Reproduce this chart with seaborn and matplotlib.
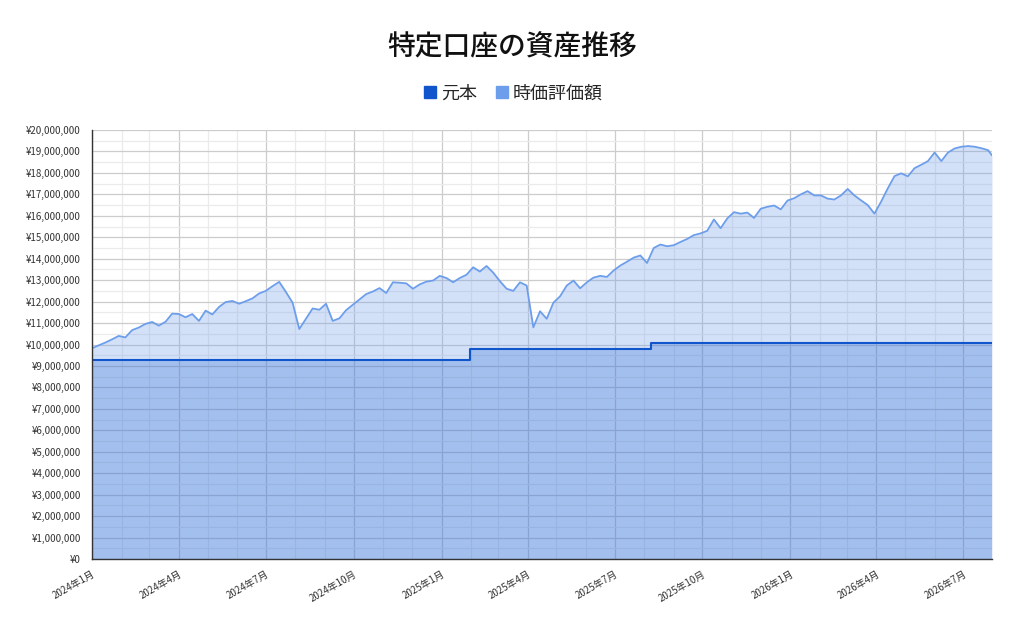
import numpy as np
import pandas as pd
import matplotlib
matplotlib.use('Agg')
import matplotlib.pyplot as plt
import matplotlib.dates as mdates
from matplotlib.ticker import MultipleLocator, FuncFormatter
from matplotlib.lines import Line2D
import seaborn as sns

# ── データ ──────────────────────────────────────────────
# 時価評価額（週次, 円）
value_dates = pd.date_range('2024-01-01', '2026-07-27', freq='7D').append(pd.DatetimeIndex(['2026-07-31']))
market_value = [
    9820000, 9960000, 10090000, 10240000, 10400000, 10330000, 10670000, 10790000, 10960000, 11050000,
    10880000, 11060000, 11440000, 11420000, 11270000, 11420000, 11100000, 11580000, 11400000, 11750000,
    11980000, 12030000, 11900000, 12020000, 12150000, 12380000, 12500000, 12720000, 12920000, 12450000,
    11950000, 10720000, 11200000, 11680000, 11620000, 11900000, 11100000, 11220000, 11600000, 11850000,
    12100000, 12350000, 12470000, 12630000, 12400000, 12900000, 12880000, 12850000, 12600000, 12800000,
    12930000, 12980000, 13200000, 13100000, 12900000, 13100000, 13250000, 13600000, 13400000, 13660000,
    13350000, 12950000, 12600000, 12500000, 12900000, 12750000, 10800000, 11550000, 11200000, 11950000,
    12250000, 12750000, 12980000, 12620000, 12900000, 13120000, 13200000, 13150000, 13450000, 13680000,
    13860000, 14050000, 14150000, 13800000, 14500000, 14660000, 14580000, 14630000, 14780000, 14920000,
    15100000, 15180000, 15300000, 15830000, 15420000, 15880000, 16170000, 16100000, 16150000, 15900000,
    16330000, 16420000, 16480000, 16300000, 16710000, 16820000, 17000000, 17150000, 16950000, 16950000,
    16800000, 16760000, 16950000, 17250000, 16950000, 16720000, 16500000, 16100000, 16660000, 17280000,
    17850000, 17980000, 17840000, 18220000, 18380000, 18550000, 18950000, 18550000, 18950000, 19140000,
    19220000, 19250000, 19220000, 19150000, 19060000, 18820000,
]

# 元本（入金のたびに段階的に増加）
principal_dates = pd.to_datetime(['2024-01-01', '2025-01-31', '2025-08-08', '2026-07-31'])
principal = [9300000, 9800000, 10050000, 10050000]

val_df = pd.DataFrame({'date': value_dates, 'value': market_value})
pr_df = pd.DataFrame({'date': principal_dates, 'value': principal})

# ── 描画 ────────────────────────────────────────────────
sns.set_style('white')
plt.rcParams['font.family'] = ['Noto Sans CJK JP', 'DejaVu Sans']

c_principal = '#1155cc'
c_value = '#6d9eeb'

fig = plt.figure(figsize=(10.24, 6.32), dpi=100)
ax = fig.add_axes([0.0898, 0.1155, 0.8789, 0.6788])

ax.fill_between(val_df['date'], val_df['value'], color=c_value, alpha=0.3, linewidth=0)
ax.fill_between(pr_df['date'], pr_df['value'], step='post', color=c_principal, alpha=0.24, linewidth=0)
sns.lineplot(data=val_df, x='date', y='value', ax=ax, color=c_value, linewidth=1.3)
sns.lineplot(data=pr_df, x='date', y='value', ax=ax, color=c_principal, linewidth=1.5,
             drawstyle='steps-post')

ax.set_xlim(value_dates[0], value_dates[-1])
ax.set_ylim(0, 20000000)

# 軸・目盛り
ax.xaxis.set_major_locator(mdates.MonthLocator(bymonth=[1, 4, 7, 10]))
ax.xaxis.set_minor_locator(mdates.MonthLocator())
ax.xaxis.set_major_formatter(FuncFormatter(lambda v, p: f"{mdates.num2date(v).year}年{mdates.num2date(v).month}月"))
ax.yaxis.set_major_locator(MultipleLocator(1000000))
ax.yaxis.set_minor_locator(MultipleLocator(500000))
ax.yaxis.set_major_formatter(FuncFormatter(lambda v, p: f"¥{v:,.0f}"))

ax.tick_params(axis='y', which='major', direction='inout', length=9, width=1, labelsize=7, colors='#333333')
ax.tick_params(axis='y', which='minor', length=0)
ax.tick_params(axis='x', which='major', direction='inout', length=10, width=1, labelsize=7,
               colors='#333333', pad=2)
ax.tick_params(axis='x', which='minor', direction='inout', length=4, width=1, colors='#333333')
for lbl in ax.get_xticklabels():
    lbl.set_rotation(30)
    lbl.set_ha('right')
    lbl.set_rotation_mode('anchor')

ax.set_axisbelow(True)
ax.grid(which='major', color='#cccccc', linewidth=0.9)
ax.grid(which='minor', color='#ebebeb', linewidth=0.9)

for side in ['top', 'right']:
    ax.spines[side].set_visible(False)
for side in ['left', 'bottom']:
    ax.spines[side].set_color('#333333')
    ax.spines[side].set_linewidth(1.0)

ax.set_xlabel('')
ax.set_ylabel('')

# タイトルと凡例
fig.text(0.5, 0.925, '特定口座の資産推移', ha='center', va='center', fontsize=20,
         fontweight='medium', color='#111111')
handles = [
    Line2D([0], [0], marker='s', linestyle='none', markersize=8, color=c_principal, label='元本'),
    Line2D([0], [0], marker='s', linestyle='none', markersize=8, color=c_value, label='時価評価額'),
]
fig.legend(handles=handles, loc='center', bbox_to_anchor=(0.5, 0.852), ncol=2, frameon=False,
           fontsize=13, handletextpad=0.1, columnspacing=0.9, handlelength=1.0)

fig.savefig('out.png', dpi=100)
